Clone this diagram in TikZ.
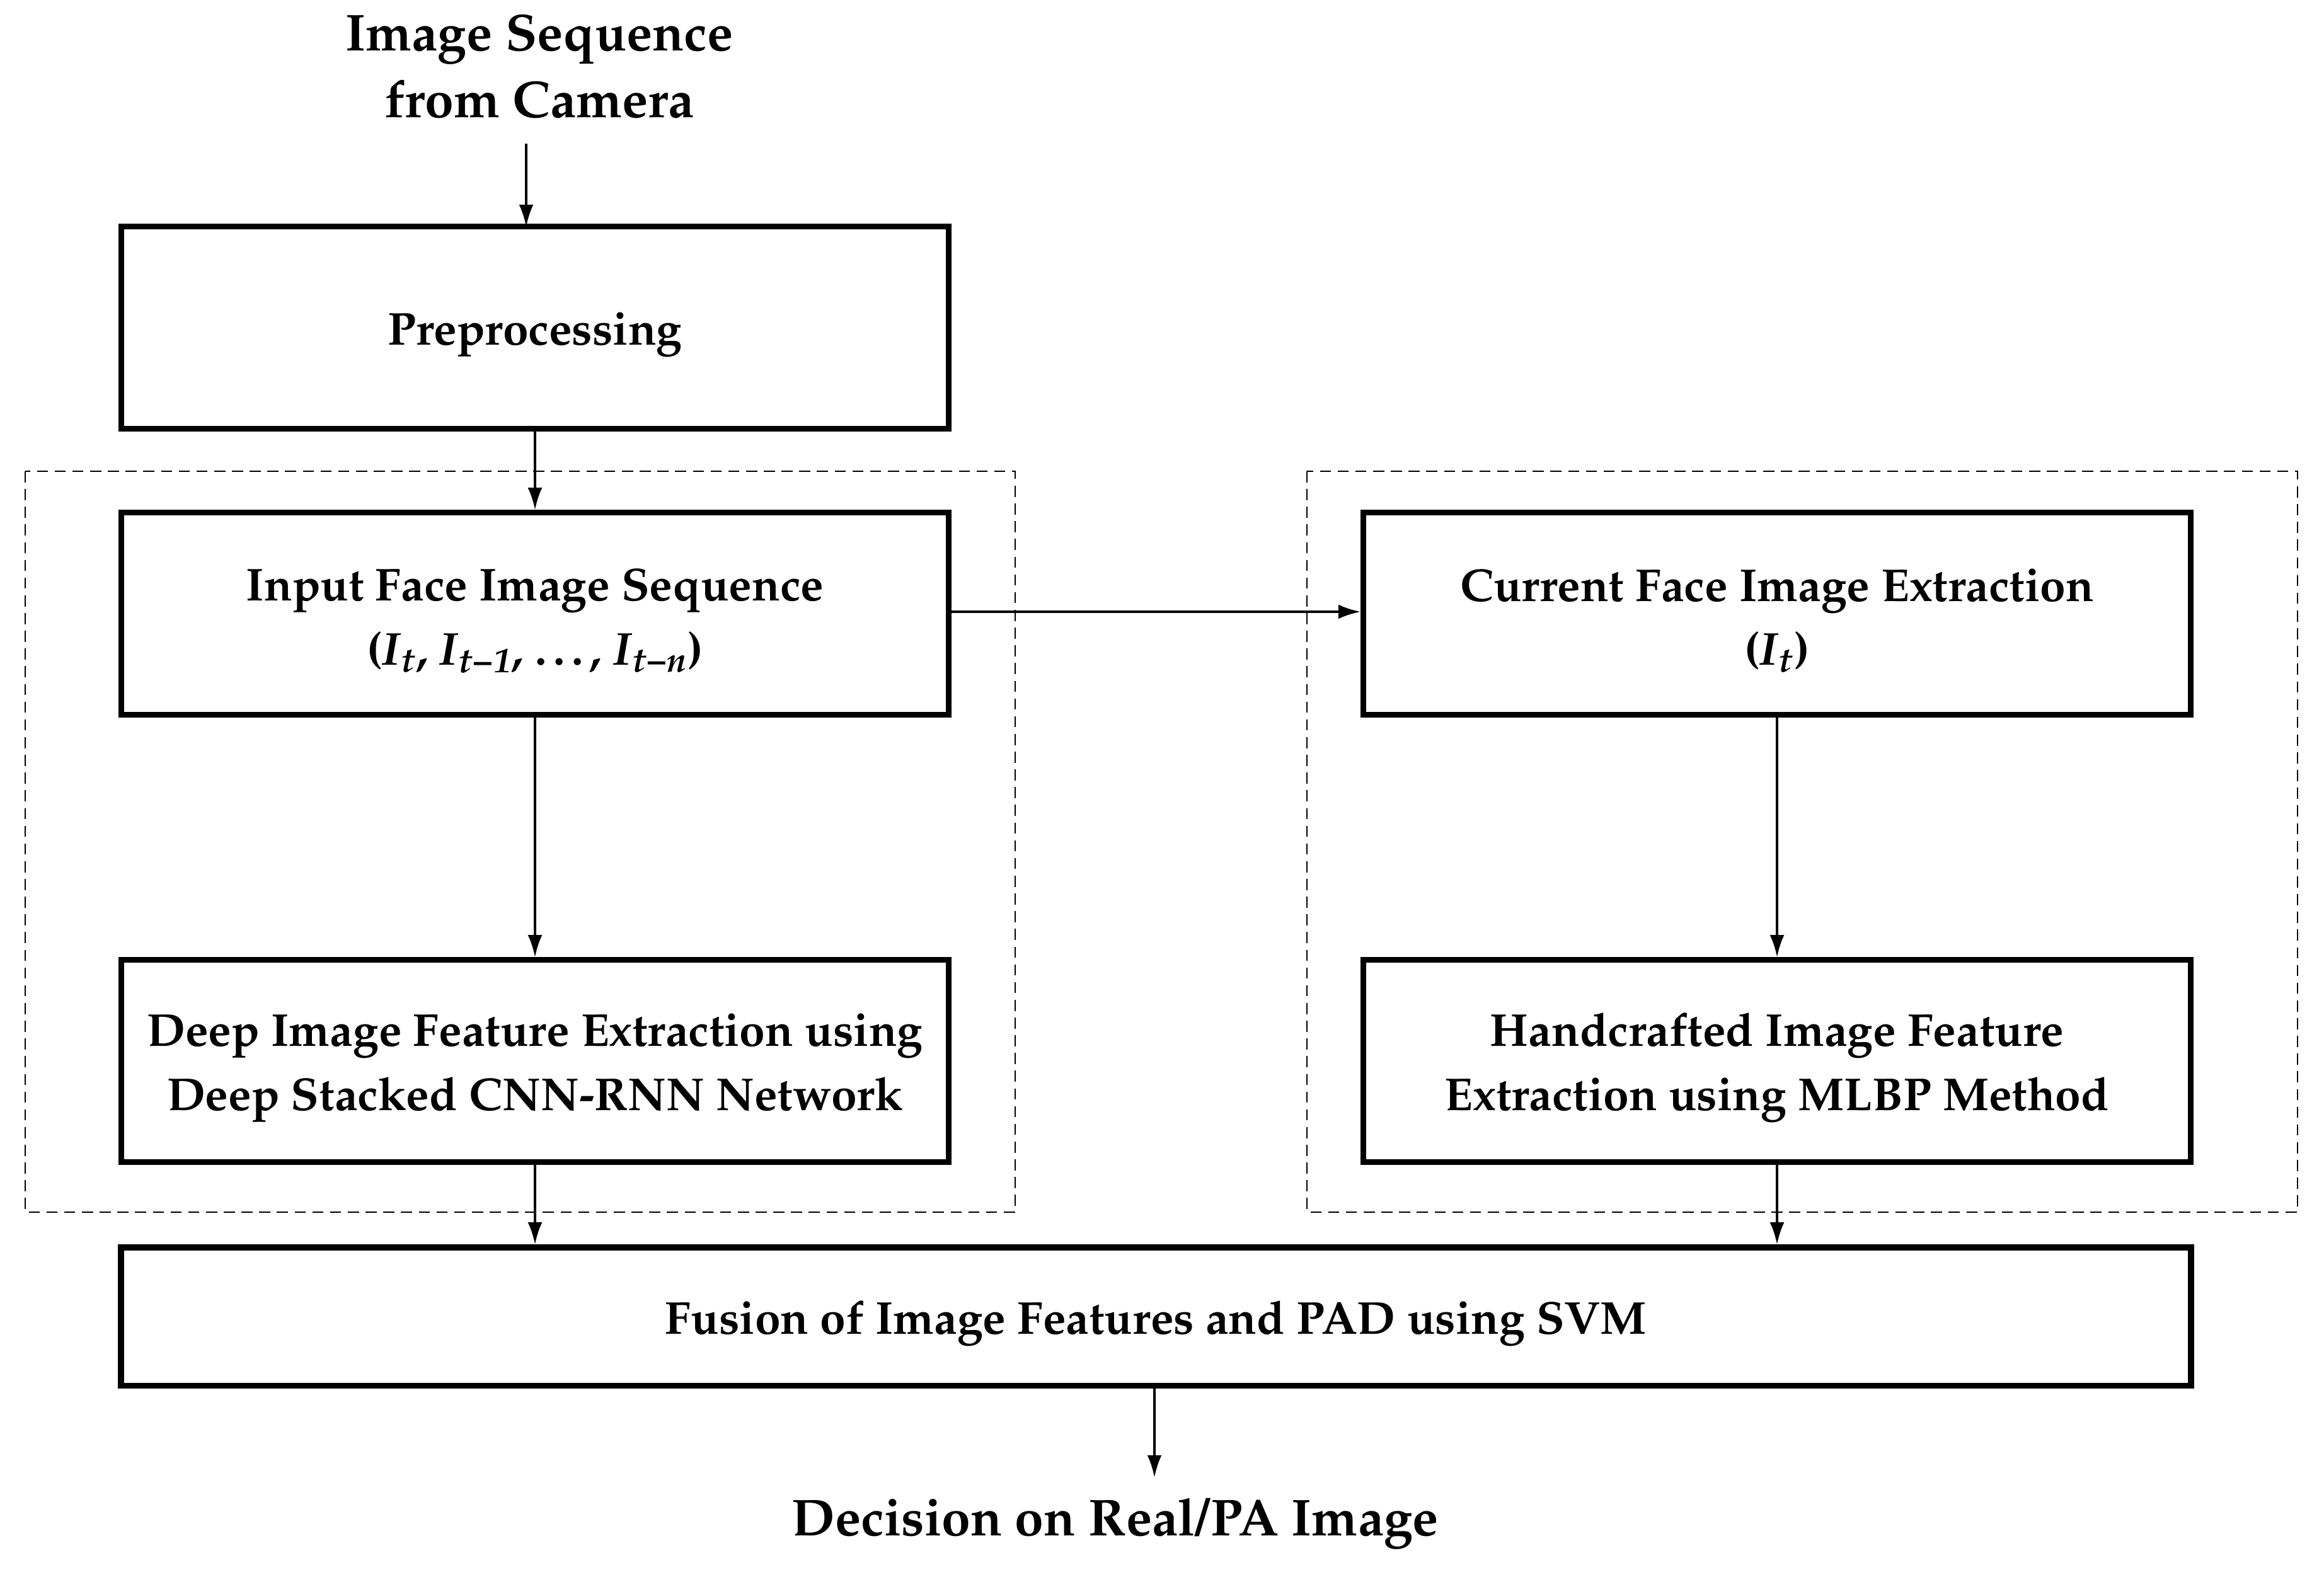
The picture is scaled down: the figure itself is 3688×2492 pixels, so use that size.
\documentclass[tikz,border=0pt]{standalone}
\usepackage[T1]{fontenc}
\usepackage{mathpazo}
\usetikzlibrary{arrows.meta}
\newcommand{\bI}[1]{\textit{I}\textsubscript{\textit{#1}}}
\newcommand{\seqmath}{(\bI{t}, \bI{t\textminus1}, \ldots, \bI{t\textminus n})}
\newcommand{\curmath}{(\bI{t})}
\newcommand{\lift}{\rule{0pt}{21pt}}
\begin{document}
\begin{tikzpicture}[x=0.01cm,y=-0.01cm,
  blk/.style={draw,line width=2.6pt,inner sep=0pt,align=center,font=\fontsize{20.8}{28.8}\selectfont\bfseries},
  grp/.style={draw,line width=0.7pt,dash pattern=on 5pt off 3pt},
  arr/.style={-{Latex[length=10pt,width=6.5pt]},line width=1.1pt},
  lbl/.style={align=center,font=\fontsize{23.4}{30}\selectfont\bfseries,inner sep=0pt}]
\useasboundingbox (0,0) rectangle (3688,2492);
% groups
\draw[grp] (40,748) rectangle (1611,1924);
\draw[grp] (2074,748) rectangle (3646,1924);
% boxes
\node[blk,minimum width=13.12cm,minimum height=3.2cm] (pre) at (849,520) {\lift Preprocessing};
\node[blk,minimum width=13.12cm,minimum height=3.2cm] (inp) at (849,974) {\lift Input Face Image Sequence\\\seqmath};
\node[blk,minimum width=13.12cm,minimum height=3.2cm] (cur) at (2820,974) {\lift Current Face Image Extraction\\\curmath};
\node[blk,minimum width=13.12cm,minimum height=3.2cm] (deep) at (849,1684) {\lift Deep Image Feature Extraction using\\Deep Stacked CNN-RNN Network};
\node[blk,minimum width=13.12cm,minimum height=3.2cm] (hand) at (2820,1684) {\lift Handcrafted Image Feature\\Extraction using MLBP Method};
\node[blk,minimum width=32.83cm,minimum height=2.19cm] (fus) at (1834.5,2089.5) {\lift Fusion of Image Features and PAD using SVM};
% labels
\node[lbl] (src) at (856,105) {Image Sequence\\from Camera};
\node[lbl] (dec) at (1770,2418) {Decision on Real/PA Image};
\coordinate (srcend) at (835,228);
\coordinate (decend) at (1832,2345);
% arrows
\draw[arr] (srcend) -- (835,360);
\draw[arr] (pre.south) -- (inp.north);
\draw[arr] (inp.east |- 0,971) -- (cur.west |- 0,971);
\draw[arr] (inp.south) -- (deep.north);
\draw[arr] (cur.south) -- (hand.north);
\draw[arr] (deep.south) -- (deep.south |- fus.north);
\draw[arr] (hand.south) -- (hand.south |- fus.north);
\draw[arr] (fus.south -| decend) -- (decend);
\end{tikzpicture}
\end{document}
